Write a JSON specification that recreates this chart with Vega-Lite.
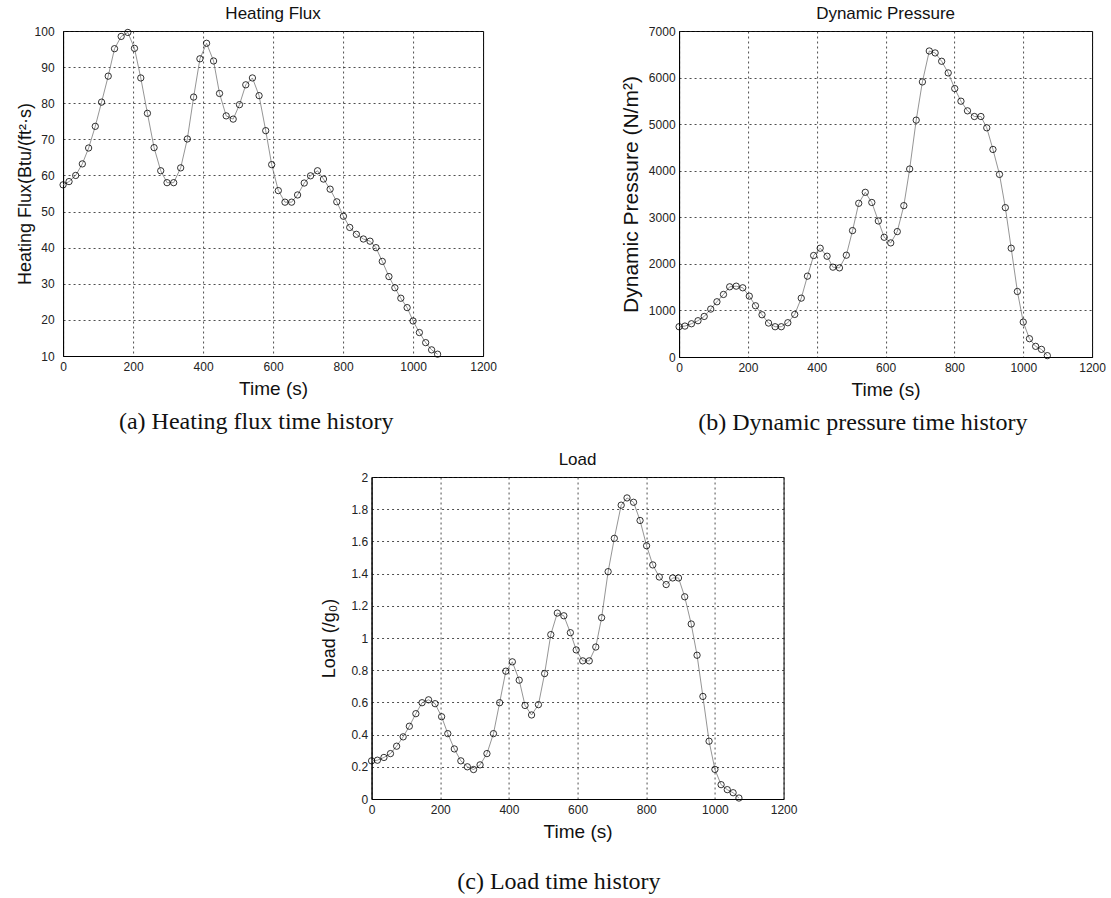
{
  "$schema": "https://vega.github.io/schema/vega-lite/v6.json",
  "background": "white",
  "padding": {"left": 15, "top": 4, "right": 5, "bottom": 5},
  "datasets": {
    "traj": [
      {"t": 0, "flux": 57.4, "q": 650, "load": 0.237},
      {"t": 17, "flux": 58.3, "q": 664, "load": 0.241},
      {"t": 36, "flux": 60.0, "q": 714, "load": 0.258},
      {"t": 55, "flux": 63.2, "q": 779, "load": 0.282},
      {"t": 73, "flux": 67.6, "q": 871, "load": 0.328},
      {"t": 92, "flux": 73.6, "q": 1029, "load": 0.386},
      {"t": 110, "flux": 80.3, "q": 1186, "load": 0.452},
      {"t": 129, "flux": 87.5, "q": 1343, "load": 0.530},
      {"t": 147, "flux": 95.1, "q": 1507, "load": 0.598},
      {"t": 166, "flux": 98.5, "q": 1521, "load": 0.616},
      {"t": 185, "flux": 99.6, "q": 1486, "load": 0.592},
      {"t": 204, "flux": 95.2, "q": 1307, "load": 0.511},
      {"t": 222, "flux": 87.0, "q": 1100, "load": 0.406},
      {"t": 241, "flux": 77.2, "q": 907, "load": 0.311},
      {"t": 260, "flux": 67.7, "q": 729, "load": 0.237},
      {"t": 279, "flux": 61.3, "q": 650, "load": 0.200},
      {"t": 297, "flux": 58.0, "q": 650, "load": 0.183},
      {"t": 316, "flux": 58.0, "q": 736, "load": 0.212},
      {"t": 336, "flux": 62.1, "q": 914, "load": 0.282},
      {"t": 355, "flux": 70.1, "q": 1264, "load": 0.406},
      {"t": 373, "flux": 81.7, "q": 1736, "load": 0.598},
      {"t": 391, "flux": 92.3, "q": 2179, "load": 0.794},
      {"t": 410, "flux": 96.6, "q": 2336, "load": 0.852},
      {"t": 430, "flux": 91.7, "q": 2164, "load": 0.738},
      {"t": 447, "flux": 82.7, "q": 1929, "load": 0.581},
      {"t": 466, "flux": 76.5, "q": 1914, "load": 0.522},
      {"t": 486, "flux": 75.6, "q": 2186, "load": 0.586},
      {"t": 504, "flux": 79.6, "q": 2714, "load": 0.779},
      {"t": 522, "flux": 85.1, "q": 3300, "load": 1.021},
      {"t": 541, "flux": 87.0, "q": 3536, "load": 1.155},
      {"t": 560, "flux": 82.1, "q": 3318, "load": 1.138},
      {"t": 579, "flux": 72.4, "q": 2921, "load": 1.033},
      {"t": 596, "flux": 63.0, "q": 2571, "load": 0.926},
      {"t": 615, "flux": 55.8, "q": 2450, "load": 0.858},
      {"t": 634, "flux": 52.6, "q": 2693, "load": 0.858},
      {"t": 653, "flux": 52.6, "q": 3250, "load": 0.944},
      {"t": 670, "flux": 54.6, "q": 4036, "load": 1.126},
      {"t": 689, "flux": 57.9, "q": 5086, "load": 1.412},
      {"t": 707, "flux": 59.9, "q": 5907, "load": 1.619},
      {"t": 727, "flux": 61.3, "q": 6571, "load": 1.825},
      {"t": 744, "flux": 59.0, "q": 6529, "load": 1.870},
      {"t": 763, "flux": 56.2, "q": 6350, "load": 1.843},
      {"t": 782, "flux": 52.7, "q": 6100, "load": 1.730},
      {"t": 801, "flux": 48.7, "q": 5764, "load": 1.573},
      {"t": 819, "flux": 45.6, "q": 5493, "load": 1.454},
      {"t": 838, "flux": 43.7, "q": 5286, "load": 1.379},
      {"t": 858, "flux": 42.4, "q": 5164, "load": 1.332},
      {"t": 877, "flux": 41.8, "q": 5164, "load": 1.373},
      {"t": 894, "flux": 40.0, "q": 4921, "load": 1.373},
      {"t": 912, "flux": 36.2, "q": 4457, "load": 1.256},
      {"t": 931, "flux": 32.0, "q": 3921, "load": 1.087},
      {"t": 948, "flux": 28.9, "q": 3207, "load": 0.893},
      {"t": 965, "flux": 26.0, "q": 2336, "load": 0.637},
      {"t": 983, "flux": 23.4, "q": 1407, "load": 0.359},
      {"t": 1000, "flux": 19.7, "q": 750, "load": 0.184},
      {"t": 1018, "flux": 16.5, "q": 393, "load": 0.089},
      {"t": 1036, "flux": 13.7, "q": 229, "load": 0.058},
      {"t": 1053, "flux": 11.7, "q": 164, "load": 0.039},
      {"t": 1070, "flux": 10.5, "q": 29, "load": 0.006}
    ]
  },
  "config": {
    "font": "Liberation Sans",
    "view": {"stroke": "#000", "strokeWidth": 1},
    "axis": {
      "domainColor": "#000",
      "domainWidth": 1,
      "grid": true,
      "gridColor": "#222",
      "gridDash": [2, 3],
      "gridWidth": 0.8,
      "gridOpacity": 1,
      "ticks": false,
      "labelFont": "Liberation Sans",
      "labelFontSize": 12,
      "labelColor": "#222",
      "labelFlush": false,
      "labelOverlap": false,
      "titleFont": "Liberation Sans",
      "titleFontWeight": "normal",
      "titleColor": "#111"
    },
    "axisX": {"titleFontSize": 19, "labelPadding": 5, "titlePadding": 7, "format": "d"},
    "axisY": {"titleFontSize": 18, "labelPadding": 4, "titlePadding": 6},
    "title": {"font": "Liberation Sans", "fontSize": 17, "fontWeight": "normal", "color": "#111", "offset": 2}
  },
  "spacing": 15,
  "center": true,
  "vconcat": [
    {
      "spacing": 122,
      "hconcat": [
        {
          "title": {"text": "(a) Heating flux time history", "orient": "bottom", "anchor": "middle", "font": "Liberation Serif", "fontSize": 24, "color": "#111", "offset": 11},
          "vconcat": [
            {
              "width": 420,
              "height": 325,
              "title": "Heating Flux",
              "data": {"name": "traj"},
              "encoding": {
                "x": {"field": "t", "type": "quantitative", "scale": {"domain": [0, 1200], "nice": false},
                      "axis": {"title": "Time (s)", "values": [0, 200, 400, 600, 800, 1000, 1200]}},
                "y": {"field": "flux", "type": "quantitative", "scale": {"domain": [10, 100], "nice": false, "zero": false},
                      "axis": {"title": "Heating Flux(Btu/(ft²·s)", "labelPadding": 9, "titlePadding": 0,
                               "values": [10, 20, 30, 40, 50, 60, 70, 80, 90, 100]}}
              },
              "layer": [
                {"mark": {"type": "line", "color": "#7a7a7a", "strokeWidth": 0.8}},
                {"mark": {"type": "point", "shape": "circle", "filled": false, "color": "#000", "size": 40, "strokeWidth": 0.8, "opacity": 1}}
              ]
            }
          ]
        },
        {
          "title": {"text": "(b) Dynamic pressure time history", "orient": "bottom", "anchor": "middle", "font": "Liberation Serif", "fontSize": 24, "color": "#111", "offset": 11},
          "vconcat": [
            {
              "width": 413,
              "height": 326,
              "title": "Dynamic Pressure",
              "data": {"name": "traj"},
              "encoding": {
                "x": {"field": "t", "type": "quantitative", "scale": {"domain": [0, 1200], "nice": false},
                      "axis": {"title": "Time (s)", "values": [0, 200, 400, 600, 800, 1000, 1200]}},
                "y": {"field": "q", "type": "quantitative", "scale": {"domain": [0, 7000], "nice": false},
                      "axis": {"title": "Dynamic Pressure (N/m²)", "titlePadding": 7, "titleFontSize": 21,
                               "values": [0, 1000, 2000, 3000, 4000, 5000, 6000, 7000], "format": "d"}}
              },
              "layer": [
                {"mark": {"type": "line", "color": "#7a7a7a", "strokeWidth": 0.8}},
                {"mark": {"type": "point", "shape": "circle", "filled": false, "color": "#000", "size": 40, "strokeWidth": 0.8, "opacity": 1}}
              ]
            }
          ]
        }
      ]
    },
    {
      "title": {"text": "(c) Load time history", "orient": "bottom", "anchor": "middle", "font": "Liberation Serif", "fontSize": 24, "color": "#111", "offset": 28},
      "vconcat": [
        {
          "width": 412,
          "height": 322,
          "title": "Load",
          "data": {"name": "traj"},
          "encoding": {
            "x": {"field": "t", "type": "quantitative", "scale": {"domain": [0, 1200], "nice": false},
                  "axis": {"title": "Time (s)", "values": [0, 200, 400, 600, 800, 1000, 1200]}},
            "y": {"field": "load", "type": "quantitative", "scale": {"domain": [0, 2], "nice": false},
                  "axis": {"title": "Load (/g₀)", "titlePadding": 12, "format": "~g",
                           "values": [0, 0.2, 0.4, 0.6, 0.8, 1, 1.2, 1.4, 1.6, 1.8, 2]}}
          },
          "layer": [
            {"mark": {"type": "line", "color": "#7a7a7a", "strokeWidth": 0.8}},
            {"mark": {"type": "point", "shape": "circle", "filled": false, "color": "#000", "size": 40, "strokeWidth": 0.8, "opacity": 1}}
          ]
        }
      ]
    }
  ]
}
